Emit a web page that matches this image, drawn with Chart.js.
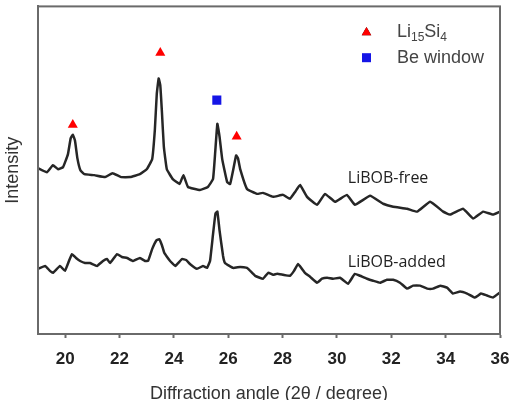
<!DOCTYPE html>
<html><head><meta charset="utf-8">
<script src="https://cdn.jsdelivr.net/npm/chart.js@4.4.1/dist/chart.umd.min.js"></script>
<style>html,body{margin:0;padding:0;background:#fff;}#wrap{width:515px;height:400px;position:relative;}</style>
</head><body><div id="wrap"><canvas id="c"></canvas></div>
<script>
// 2-theta (degree) and relative intensity (a.u.)
const twoThetaFree = [19.00,19.33,19.55,19.74,19.92,20.10,20.20,20.28,20.36,20.45,20.56,20.71,21.07,21.47,21.74,22.06,22.39,22.75,23.00,23.20,23.30,23.37,23.44,23.50,23.56,23.63,23.74,23.96,24.21,24.35,24.52,24.96,25.25,25.44,25.52,25.60,25.68,25.78,25.96,26.07,26.18,26.29,26.36,26.44,26.69,27.06,27.28,27.65,28.02,28.27,28.46,28.64,28.90,29.27,29.56,29.93,30.37,30.66,31.22,31.70,32.07,32.58,32.95,33.43,33.91,34.16,34.64,35.01,35.38,35.74,36.00];
const intensityFree = [168,164,171,167,169,182,198,202,196,178,166,162,161,159,163,159,159,162,167,177,207,243,259,252,225,190,167,157,152,161,149,146,149,157,184,213,200,177,154,152,166,181,178,167,147,142,143,139,141,137,144,151,139,131,142,134,141,131,140,132,129,127,124,134,124,121,127,117,124,121,124];
const twoThetaAdded = [19.00,19.26,19.44,19.55,19.81,19.99,20.14,20.25,20.40,20.55,20.73,20.91,21.17,21.39,21.54,21.65,21.91,22.09,22.28,22.50,22.75,22.94,23.05,23.20,23.36,23.46,23.56,23.65,23.75,23.86,24.05,24.30,24.45,24.59,24.85,25.07,25.22,25.33,25.44,25.53,25.60,25.68,25.81,25.88,26.18,26.44,26.69,26.88,26.99,27.28,27.47,27.65,27.80,28.02,28.27,28.42,28.57,28.71,28.82,29.01,29.27,29.45,29.64,29.86,30.11,30.41,30.66,30.85,31.11,31.33,31.59,31.84,32.07,32.32,32.58,32.80,33.06,33.32,33.54,33.80,34.05,34.27,34.53,34.79,35.08,35.30,35.52,35.74,36.00];
const intensityAdded = [66,69,64,62,69,64,74,81,77,74,72,72,69,74,76,72,81,78,77,74,77,74,74,86,95,96,90,82,78,74,69,76,75,71,66,69,67,74,101,122,124,105,79,72,67,68,67,62,59,56,62,60,61,60,59,64,71,66,62,58,52,56,57,56,57,51,61,59,56,54,52,55,55,52,46,49,49,46,46,49,47,41,43,41,37,41,39,37,42];
const li15si4Angles = [20.28, 23.50, 26.31];
const li15si4Heights = [212, 285, 200];
const beWindowAngles = [25.58];
const beWindowHeights = [237];
const xTickValues = [20,22,24,26,28,30,32,34,36];
const curveNames = ['LiBOB-free','LiBOB-added'];
const markerNames = ['Li15Si4','Be window'];

const toPts = (xs, ys) => xs.map((x,i)=>({x:x, y:ys[i]}));
const FONT = "'Liberation Sans', Arial, sans-serif";

const framePlugin = {
  id:'frame',
  afterDraw(chart){
    const {ctx, chartArea:a} = chart;
    ctx.save();
    ctx.strokeStyle = '#6a6a6a';
    ctx.lineWidth = 2;
    ctx.strokeRect(a.left, a.top, a.right-a.left, a.bottom-a.top);
    ctx.restore();
  }
};

const labelPlugin = {
  id:'curveLabels',
  afterDatasetsDraw(chart){
    const {ctx, scales} = chart;
    const anchors = [{x:30.4, y:153},{x:30.4, y:68}];
    ctx.save();
    ctx.fillStyle = '#222';
    ctx.font = "16px 'Open Sans', sans-serif";
    ctx.textBaseline = 'alphabetic';
    ctx.textAlign = 'left';
    curveNames.forEach((t,i)=>{
      ctx.fillText(t, scales.x.getPixelForValue(anchors[i].x), scales.y.getPixelForValue(anchors[i].y));
    });
    ctx.restore();
  }
};

const legendPlugin = {
  id:'markerLegend',
  afterDraw(chart){
    const {ctx, chartArea:a} = chart;
    const mx = a.left + 328.5, tx = a.left + 359;
    const rows = [a.top + 25.5, a.top + 51.3];
    ctx.save();
    Chart.helpers.drawPoint(ctx, {pointStyle:'triangle', radius:5.5, rotation:0, borderWidth:0}, mx, rows[0]+0.5);
    ctx.fillStyle = '#ff0000'; ctx.fill();
    ctx.beginPath();
    ctx.fillStyle = '#1515e6';
    ctx.fillRect(mx-4.5, rows[1]-4.5, 9, 9);
    ctx.fillStyle = '#444';
    ctx.textBaseline = 'middle';
    ctx.textAlign = 'left';
    let x = tx;
    const parts = [['Li',false],['15',true],['Si',false],['4',true]];
    parts.forEach(([s,sub])=>{
      ctx.font = sub ? "12px "+FONT : "18px "+FONT;
      ctx.fillText(s, x, rows[0] + (sub ? 6 : 0));
      x += ctx.measureText(s).width;
    });
    ctx.font = "18px "+FONT;
    ctx.fillText(markerNames[1], tx, rows[1]);
    ctx.restore();
  }
};

new Chart(document.getElementById('c'), {
  type:'scatter',
  data:{datasets:[
    {label:curveNames[0], data:toPts(twoThetaFree,intensityFree), showLine:true, borderColor:'#262626', borderWidth:2.5, pointRadius:0, tension:0.1},
    {label:curveNames[1], data:toPts(twoThetaAdded,intensityAdded), showLine:true, borderColor:'#262626', borderWidth:2.5, pointRadius:0, tension:0.1},
    {label:markerNames[0], data:toPts(li15si4Angles,li15si4Heights), pointStyle:'triangle', pointRadius:5.8, backgroundColor:'#ff0000', borderWidth:0, showLine:false},
    {label:markerNames[1], data:toPts(beWindowAngles,beWindowHeights), pointStyle:'rect', pointRadius:6.4, backgroundColor:'#1515e6', borderWidth:0, showLine:false}
  ]},
  options:{
    responsive:true, maintainAspectRatio:false, animation:false,
    layout:{padding:{top:2,right:15,left:0,bottom:0}},
    plugins:{legend:{display:false}, tooltip:{enabled:false}},
    scales:{
      x:{type:'linear', min:19, max:36,
        afterFit(s){ s.height = 66; s.paddingLeft = 0; s.paddingRight = 0; s.paddingTop = 0; s.paddingBottom = 0; },
        afterBuildTicks(s){ s.ticks = xTickValues.map(v=>({value:v})); },
        grid:{display:true, drawOnChartArea:false, drawTicks:true, tickLength:4, tickWidth:2, tickColor:'#6a6a6a'},
        border:{display:true, color:'#6a6a6a', width:2},
        ticks:{padding:11, color:'#222', font:{family:FONT, size:17, weight:'bold'}, maxRotation:0},
        title:{display:true, text:'Diffraction angle (2θ / degree)', color:'#333', font:{family:FONT, size:18}, padding:{top:0,bottom:-5}}
      },
      y:{type:'linear', min:0, max:332,
        afterFit(s){ s.width = 38; s.paddingLeft = 0; s.paddingRight = 0; s.paddingTop = 0; s.paddingBottom = 0; },
        grid:{display:false},
        border:{display:true, color:'#6a6a6a', width:2},
        ticks:{display:false},
        title:{display:true, text:'Intensity', color:'#333', font:{family:FONT, size:18}, padding:{top:2,bottom:0}}
      }
    }
  },
  plugins:[framePlugin, labelPlugin, legendPlugin]
});
</script></body></html>
